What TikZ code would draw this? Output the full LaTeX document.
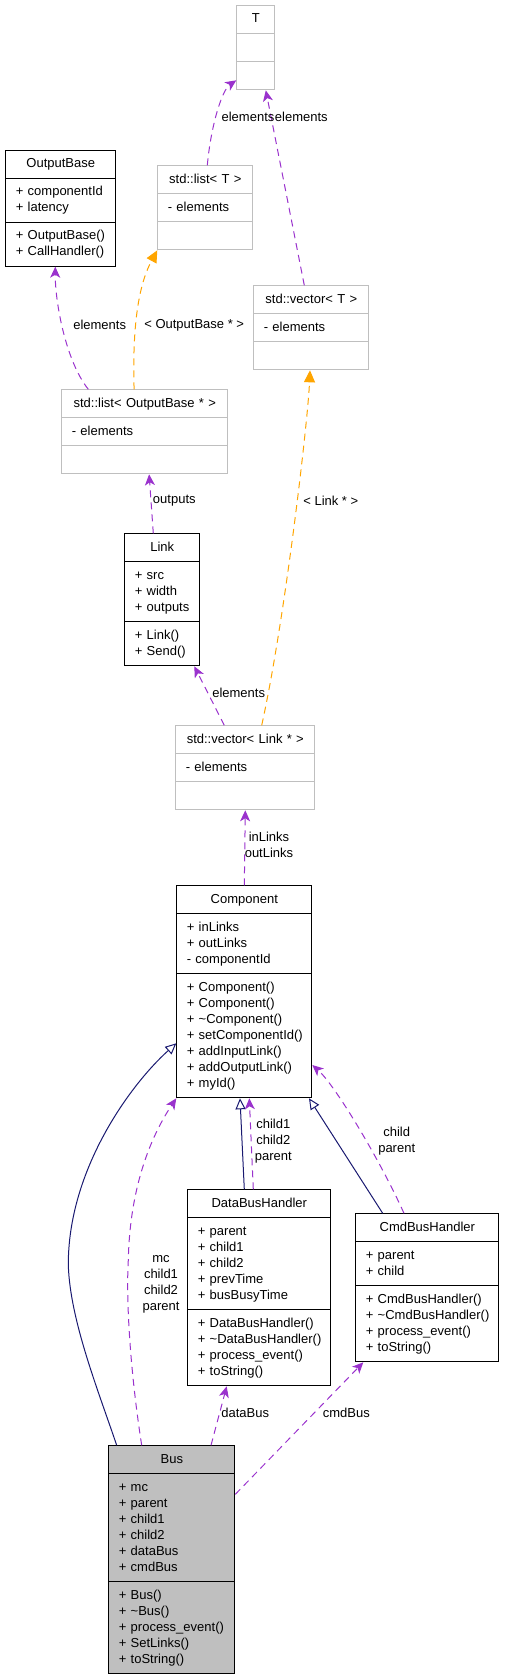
\documentclass[tikz,border=0pt]{standalone}
\usepackage{fontspec}
\setmainfont{Liberation Sans}
\usepackage{xcolor}
\usepackage{tikz}
\usetikzlibrary{shapes,arrows.meta}

\definecolor{grey75}{HTML}{BFBFBF}
\definecolor{orchid}{HTML}{9A32CD}
\definecolor{navy}{HTML}{191970}
\definecolor{tmplorange}{HTML}{FFA500}

\hyphenpenalty=10000
\exhyphenpenalty=10000
\newcommand{\clsname}[1]{\hbox to\hsize{\hss\strut#1\hss}}

\tikzset{
  cls/.style={rectangle split, rectangle split parts=3, draw=black, line width=1pt, inner xsep=10pt, inner ysep=5.5pt, anchor=north west, align=left, font=\fontsize{13}{16}\selectfont},
  tmpl/.style={cls, draw=grey75},
  uses/.style={draw=orchid, line width=1pt, dash pattern=on 7pt off 5pt, -{Stealth[length=11pt,width=10pt,inset=3pt]}},
  inst/.style={draw=tmplorange, line width=1pt, dash pattern=on 7pt off 5pt, -{Triangle[length=12pt,width=11pt]}},
  inherit/.style={draw=navy, line width=1pt, -{Triangle[open,length=11pt,width=10pt]}},
  lbl/.style={inner sep=0pt, align=center, font=\fontsize{13}{16}\selectfont}
}

\begin{document}
\begin{tikzpicture}[x=1pt, y=-1pt]
    \useasboundingbox (0,0) rectangle (504,1675);

    % classes
    \node[tmpl, text width=18pt] (T) at (236.3,5.3) {\clsname{T}\nodepart{two}\strut\nodepart{three}\strut};
    \node[cls, text width=90pt] (outbase) at (5.3,149.7) {\clsname{OutputBase}\nodepart{two}\strut+~componentId\\+~latency\strut\nodepart{three}\strut+~OutputBase()\\+~CallHandler()\strut};
    \node[tmpl, text width=75pt] (tlist) at (157.3,165.3) {\clsname{std::list< T >}\nodepart{two}\strut-~elements\strut\nodepart{three}\strut};
    \node[tmpl, text width=95pt] (tvec) at (253.3,285.3) {\clsname{std::vector< T >}\nodepart{two}\strut-~elements\strut\nodepart{three}\strut};
    \node[tmpl, text width=146pt] (olist) at (61.3,389.3) {\clsname{std::list< OutputBase * >}\nodepart{two}\strut-~elements\strut\nodepart{three}\strut};
    \node[cls, text width=55pt] (link) at (124.3,533.3) {\clsname{Link}\nodepart{two}\strut+~src\\+~width\\+~outputs\strut\nodepart{three}\strut+~Link()\\+~Send()\strut};
    \node[tmpl, text width=119pt] (lvec) at (175.3,725.3) {\clsname{std::vector< Link * >}\nodepart{two}\strut-~elements\strut\nodepart{three}\strut};
    \node[cls, text width=115pt] (comp) at (176.3,885.3) {\clsname{Component}\nodepart{two}\strut+~inLinks\\+~outLinks\\-~componentId\strut\nodepart{three}\strut+~Component()\\+~Component()\\+~\textasciitilde Component()\\+~setComponentId()\\+~addInputLink()\\+~addOutputLink()\\+~myId()\strut};
    \node[cls, text width=123pt] (dbh) at (187.3,1189.3) {\clsname{DataBusHandler}\nodepart{two}\strut+~parent\\+~child1\\+~child2\\+~prevTime\\+~busBusyTime\strut\nodepart{three}\strut+~DataBusHandler()\\+~\textasciitilde DataBusHandler()\\+~process\_event()\\+~toString()\strut};
    \node[cls, text width=123pt] (cbh) at (355.3,1213.3) {\clsname{CmdBusHandler}\nodepart{two}\strut+~parent\\+~child\strut\nodepart{three}\strut+~CmdBusHandler()\\+~\textasciitilde CmdBusHandler()\\+~process\_event()\\+~toString()\strut};
    \node[cls, fill=grey75, text width=106pt] (bus) at (108.3,1445.3) {\clsname{Bus}\nodepart{two}\strut+~mc\\+~parent\\+~child1\\+~child2\\+~dataBus\\+~cmdBus\strut\nodepart{three}\strut+~Bus()\\+~\textasciitilde Bus()\\+~process\_event()\\+~SetLinks()\\+~toString()\strut};

    % relations
    \draw[uses] ([xshift=2pt]tlist.north) .. controls (211,125) and (222,90) .. ([yshift=10pt]T.south west);
    \draw[uses] ([xshift=-7pt]tvec.north) -- ([xshift=10pt]T.south);
    \draw[uses] ([xshift=27pt]olist.north west) .. controls (65,360) and (55,300) .. ([xshift=-5.5pt]outbase.south);
    \draw[inst] ([xshift=-10.7pt]olist.north) .. controls (132,320) and (140,282) .. (tlist.south west);
    \draw[inst] ([xshift=16.4pt]lvec.north) .. controls (285,620) and (308,420) .. ([xshift=-1.3pt]tvec.south);
    \draw[uses] ([xshift=-9pt]link.north) -- ([xshift=4.3pt]olist.south);
    \draw[uses] ([xshift=-21pt]lvec.north) -- ([xshift=-6pt]link.south east);
    \draw[uses] (comp.north) -- (lvec.south);
    \draw[inherit] ([xshift=-15pt]dbh.north) -- ([xshift=-4.3pt]comp.south);
    \draw[uses] ([xshift=-6pt]dbh.north) -- ([xshift=5pt]comp.south);
    \draw[inherit] ([xshift=-44.6pt]cbh.north) -- ([xshift=-3.3pt]comp.south east);
    \draw[uses] ([xshift=-23.3pt]cbh.north) .. controls (380,1160) and (335,1085) .. ([yshift=33.3pt]comp.south east);
    \draw[inherit] ([xshift=8.4pt]bus.north west) .. controls (98,1390) and (70,1320) .. (68.3,1265) .. controls (68,1170) and (130,1085) .. ([yshift=55pt]comp.south west);
    \draw[uses] ([xshift=33.4pt]bus.north west) .. controls (130,1370) and (126,1300) .. (128.3,1260) .. controls (130,1180) and (155,1130) .. (comp.south west);
    \draw[uses] ([xshift=-24.3pt]bus.north east) -- ([xshift=39.4pt]dbh.south west);
    \draw[uses] ([yshift=-49pt]bus.north east) -- ([xshift=8pt]cbh.south west);

    % labels
    \node[lbl] (elem1) at (248,116.7) {elements};
    \node[lbl] (elem2) at (301.3,116.7) {elements};
    \node[lbl] (elem3) at (99.7,325) {elements};
    \node[lbl] (targ1) at (194.2,325) {< OutputBase * >};
    \node[lbl] (targ2) at (330.8,501) {< Link * >};
    \node[lbl] (outp) at (174.3,501) {outputs};
    \node[lbl] (elem4) at (238.7,692.7) {elements};
    \node[lbl] (links) at (269,844.7) {inLinks\\outLinks};
    \node[lbl] (dbhvars) at (273.3,1141) {child1\\child2\\parent};
    \node[lbl] (cbhvars) at (396.7,1140.7) {child\\parent};
    \node[lbl] (busvars) at (161,1284) {mc\\child1\\child2\\parent};
    \node[lbl] (dbus) at (245.2,1412.7) {dataBus};
    \node[lbl] (cbus) at (346.3,1412.7) {cmdBus};
\end{tikzpicture}
\end{document}
